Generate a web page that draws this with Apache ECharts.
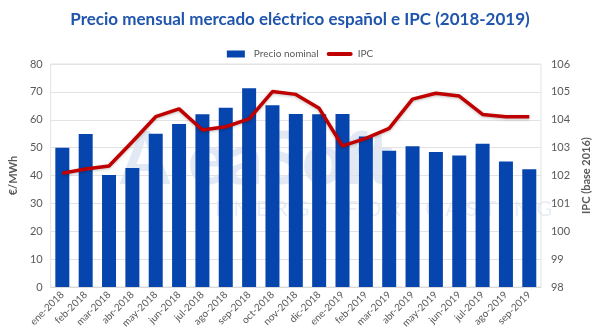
<!DOCTYPE html>
<html><head><meta charset="utf-8">
<script src="https://cdn.jsdelivr.net/npm/echarts@6/dist/echarts.min.js"></script>
<style>html,body{margin:0;padding:0;background:#fff}#c{width:600px;height:335px}</style>
</head><body><div id="c"></div>
<script>
const categories = ['ene-2018','feb-2018','mar-2018','abr-2018','may-2018','jun-2018','jul-2018','ago-2018','sep-2018','oct-2018','nov-2018','dic-2018','ene-2019','feb-2019','mar-2019','abr-2019','may-2019','jun-2019','jul-2019','ago-2019','sep-2019'];
const precioNominal = [50.0,54.9,40.2,42.7,55.0,58.5,62.0,64.3,71.3,65.2,62.1,62.0,62.1,54.0,48.9,50.5,48.4,47.2,51.4,45.0,42.2];
const ipc = [102.08,102.23,102.34,103.21,104.11,104.39,103.63,103.75,104.03,105.01,104.91,104.41,103.06,103.33,103.69,104.74,104.95,104.85,104.19,104.11,104.11];
const titleText = 'Precio mensual mercado eléctrico español e IPC (2018-2019)';
const leftAxisName = '€/MWh';
const rightAxisName = 'IPC (base 2016)';

const chart = echarts.init(document.getElementById('c'), null, {renderer:'canvas'});
const font = 'Lato, "Open Sans", sans-serif';
chart.setOption({
  animation:false,
  textStyle:{fontFamily:font},
  title:{text:titleText,left:'center',top:6,textStyle:{fontFamily:font,fontSize:17,fontWeight:'bold',color:'#1F55AD'}},
  legend:{top:44,left:'center',itemGap:8,textStyle:{color:'#595959',fontSize:10,fontFamily:font},
    symbolKeepAspect:true,
    data:[{name:'Precio nominal',icon:'path://M0,0 L18,0 L18,7 L0,7 Z',itemStyle:{color:'#0645AD'}},
          {name:'IPC',icon:'path://M2,0 L24,0 A2,2 0 0 1 24,4 L2,4 A2,2 0 0 1 2,0 Z',itemStyle:{color:'#C00000'}}],
    itemWidth:26,itemHeight:7},
  graphic:[
    {type:'text',left:120,top:125,z:-10,style:{text:'AleaSoft',font:'bold 72px Lato, sans-serif',fill:'rgba(31,85,173,0.13)'}},
    {type:'text',left:215,top:198,z:-10,style:{text:'E N E R G Y   F O R E C A S T I N G',font:'22px Lato, sans-serif',fill:'rgba(31,85,173,0.10)'}}
  ],
  grid:{left:47,right:48,top:64,bottom:48,show:true,borderColor:'#e3e3e3',borderWidth:1},
  xAxis:{type:'category',data:categories,axisTick:{show:false},
    axisLine:{lineStyle:{color:'#d9d9d9'}},
    axisLabel:{rotate:45,fontSize:10,color:'#595959',interval:0,margin:6}},
  yAxis:[
    {type:'value',min:0,max:80,interval:10,name:leftAxisName,nameLocation:'middle',nameGap:26,
     nameTextStyle:{fontWeight:'bold',fontSize:11,color:'#595959'},
     axisLabel:{fontSize:11,color:'#595959'},axisLine:{show:false},axisTick:{show:false},
     splitLine:{lineStyle:{color:'#e3e3e3'}}},
    {type:'value',min:98,max:106,interval:1,name:rightAxisName,nameLocation:'middle',nameGap:34,
     nameTextStyle:{fontWeight:'bold',fontSize:11,color:'#595959'},
     axisLabel:{fontSize:11,color:'#595959',margin:10},axisLine:{show:false},axisTick:{show:false},
     splitLine:{show:false}}
  ],
  series:[
    {name:'Precio nominal',type:'bar',data:precioNominal,barWidth:14,itemStyle:{color:'#0645AD'},z:2},
    {name:'IPC',type:'line',yAxisIndex:1,data:ipc,symbol:'none',
     lineStyle:{color:'#C00000',width:3.5,shadowColor:'rgba(0,0,0,0.25)',shadowBlur:3,shadowOffsetY:1},
     itemStyle:{color:'#C00000'},z:3}
  ]
});
</script></body></html>
